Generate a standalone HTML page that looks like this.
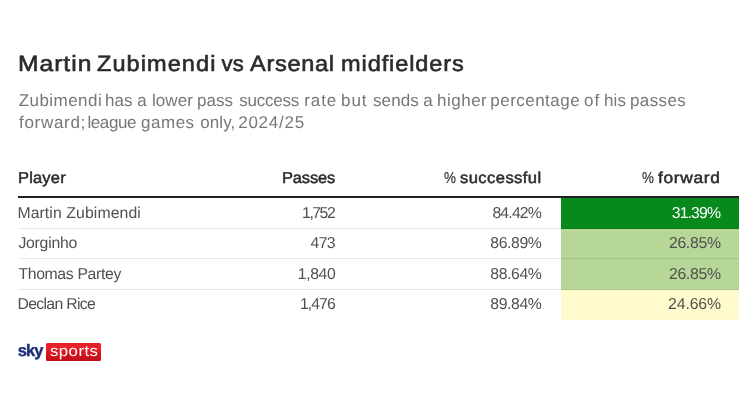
<!DOCTYPE html>
<html><head><meta charset="utf-8">
<style>
html,body{margin:0;padding:0;background:#fff;}
body{width:750px;height:406px;position:relative;overflow:hidden;text-rendering:geometricPrecision;font-family:"Liberation Sans",sans-serif;color:#333;}
.abs{position:absolute;white-space:nowrap;}
.t{position:absolute;white-space:nowrap;line-height:20px;}
#title .t{line-height:26px;}
#sub .t{line-height:22px;}
#hline{left:18px;top:196px;width:721px;height:2px;background:#222;}
.sep{position:absolute;left:18px;width:721px;height:1px;background:rgba(0,0,0,0.09);}
.cell{position:absolute;left:561px;width:178px;}
</style></head><body>
<div id="title"><div class="t" style="left:18.3px;top:51px;font-size:22px;-webkit-text-stroke:0.6px #2b2b2b;transform:scaleX(1.12);transform-origin:0 0;letter-spacing:0.87px;color:#2b2b2b;">Martin</div> <div class="t" style="left:96.5px;top:51px;font-size:22px;-webkit-text-stroke:0.6px #2b2b2b;transform:scaleX(1.07);transform-origin:0 0;letter-spacing:0.99px;color:#2b2b2b;">Zubimendi</div> <div class="t" style="left:221.6px;top:51px;font-size:22px;-webkit-text-stroke:0.6px #2b2b2b;transform:scaleX(1.0);transform-origin:0 0;letter-spacing:0.1px;color:#2b2b2b;">vs</div> <div class="t" style="left:250.2px;top:51px;font-size:22px;-webkit-text-stroke:0.6px #2b2b2b;transform:scaleX(1.07);transform-origin:0 0;letter-spacing:0.65px;color:#2b2b2b;">Arsenal</div> <div class="t" style="left:340.8px;top:51px;font-size:22px;-webkit-text-stroke:0.6px #2b2b2b;transform:scaleX(1.07);transform-origin:0 0;letter-spacing:0.84px;color:#2b2b2b;">midfielders</div></div>
<div id="sub"><div class="t" style="left:18.7px;top:90px;font-size:17px;letter-spacing:0.45px;color:#777777;">Zubimendi</div> <div class="t" style="left:105.0px;top:90px;font-size:17px;letter-spacing:0.0px;color:#777777;">has</div> <div class="t" style="left:137.2px;top:90px;font-size:17px;letter-spacing:0.0px;color:#777777;">a</div> <div class="t" style="left:152.0px;top:90px;font-size:17px;letter-spacing:0.05px;color:#777777;">lower</div> <div class="t" style="left:197.0px;top:90px;font-size:17px;letter-spacing:0.07px;color:#777777;">pass</div> <div class="t" style="left:239.2px;top:90px;font-size:17px;letter-spacing:-0.23px;color:#777777;">success</div> <div class="t" style="left:304.3px;top:90px;font-size:17px;letter-spacing:0.87px;color:#777777;">rate</div> <div class="t" style="left:341.1px;top:90px;font-size:17px;letter-spacing:0.85px;color:#777777;">but</div> <div class="t" style="left:373.0px;top:90px;font-size:17px;letter-spacing:0.12px;color:#777777;">sends</div> <div class="t" style="left:423.2px;top:90px;font-size:17px;letter-spacing:0.0px;color:#777777;">a</div> <div class="t" style="left:437.0px;top:90px;font-size:17px;letter-spacing:0.5px;color:#777777;">higher</div> <div class="t" style="left:490.3px;top:90px;font-size:17px;letter-spacing:0.47px;color:#777777;">percentage</div> <div class="t" style="left:584.0px;top:90px;font-size:17px;letter-spacing:1.0px;color:#777777;">of</div> <div class="t" style="left:604.0px;top:90px;font-size:17px;letter-spacing:0.15px;color:#777777;">his</div> <div class="t" style="left:630.0px;top:90px;font-size:17px;letter-spacing:0.4px;color:#777777;">passes</div>
<div class="t" style="left:19.0px;top:112px;font-size:17px;letter-spacing:0.7px;color:#777777;">forward;</div> <div class="t" style="left:87.4px;top:112px;font-size:17px;letter-spacing:-0.4px;color:#777777;">league</div> <div class="t" style="left:141.0px;top:112px;font-size:17px;letter-spacing:0.52px;color:#777777;">games</div> <div class="t" style="left:200.3px;top:112px;font-size:17px;letter-spacing:0.05px;color:#777777;">only,</div> <div class="t" style="left:238.2px;top:112px;font-size:17px;letter-spacing:0.75px;color:#777777;">2024/25</div></div>

<div class="t" style="left:17.6px;top:168.5px;font-size:15.8px;-webkit-text-stroke:0.5px #2b2b2b;transform:scaleX(1.04);transform-origin:0 0;letter-spacing:0.2px;color:#2b2b2b;">Player</div>
<div class="t" style="left:281.8px;top:168.5px;font-size:15.8px;-webkit-text-stroke:0.5px #2b2b2b;transform:scaleX(1.04);transform-origin:0 0;letter-spacing:-0.12px;color:#2b2b2b;">Passes</div>
<div class="t" style="left:444.0px;top:168.5px;font-size:15.8px;-webkit-text-stroke:0.15px #2b2b2b;transform:scaleX(0.85);transform-origin:0 0;letter-spacing:0.0px;color:#2b2b2b;">%</div>
<div class="t" style="left:460.0px;top:168.5px;font-size:15.8px;-webkit-text-stroke:0.5px #2b2b2b;transform:scaleX(1.05);transform-origin:0 0;letter-spacing:0.39px;color:#2b2b2b;">successful</div>
<div class="t" style="left:641.6px;top:168.5px;font-size:15.8px;-webkit-text-stroke:0.15px #2b2b2b;transform:scaleX(0.85);transform-origin:0 0;letter-spacing:0.0px;color:#2b2b2b;">%</div>
<div class="t" style="left:658.0px;top:168.5px;font-size:15.8px;-webkit-text-stroke:0.5px #2b2b2b;transform:scaleX(1.1);transform-origin:0 0;letter-spacing:0.59px;color:#2b2b2b;">forward</div>
<div id="hline" class="abs"></div>
<div class="cell" style="top:198px;height:31px;background:#08891c;"></div>
<div class="cell" style="top:229px;height:30px;background:#b6d798;"></div>
<div class="cell" style="top:259px;height:31px;background:#b6d798;"></div>
<div class="cell" style="top:290px;height:30px;background:#fffbcd;"></div>
<div class="sep" style="top:228px;"></div>
<div class="sep" style="top:258px;"></div>
<div class="sep" style="top:289px;"></div>
<div class="t" style="left:17.4px;top:203.5px;font-size:15.8px;letter-spacing:0.09px;color:#505050;">Martin Zubimendi</div>
<div class="t" style="left:302.1px;top:203.5px;font-size:15.8px;letter-spacing:-1.48px;color:#505050;">1,752</div>
<div class="t" style="left:492.4px;top:203.5px;font-size:15.8px;letter-spacing:-0.82px;color:#505050;">84.42%</div>
<div class="t" style="left:671.8px;top:203.5px;font-size:15.8px;letter-spacing:-0.88px;color:#fff;">31.39%</div>
<div class="t" style="left:18.4px;top:234.0px;font-size:15.8px;letter-spacing:-0.24px;color:#505050;">Jorginho</div>
<div class="t" style="left:310.6px;top:234.0px;font-size:15.8px;letter-spacing:-0.7px;color:#505050;">473</div>
<div class="t" style="left:490.3px;top:234.0px;font-size:15.8px;letter-spacing:-0.4px;color:#505050;">86.89%</div>
<div class="t" style="left:668.9px;top:234.0px;font-size:15.8px;letter-spacing:-0.3px;color:#505050;">26.85%</div>
<div class="t" style="left:18.4px;top:264.5px;font-size:15.8px;letter-spacing:-0.35px;color:#505050;">Thomas Partey</div>
<div class="t" style="left:297.8px;top:264.5px;font-size:15.8px;letter-spacing:-0.4px;color:#505050;">1,840</div>
<div class="t" style="left:490.3px;top:264.5px;font-size:15.8px;letter-spacing:-0.4px;color:#505050;">88.64%</div>
<div class="t" style="left:668.9px;top:264.5px;font-size:15.8px;letter-spacing:-0.3px;color:#505050;">26.85%</div>
<div class="t" style="left:17.4px;top:295.0px;font-size:15.8px;letter-spacing:-0.67px;color:#505050;">Declan Rice</div>
<div class="t" style="left:300.0px;top:295.0px;font-size:15.8px;letter-spacing:-0.95px;color:#505050;">1,476</div>
<div class="t" style="left:490.3px;top:295.0px;font-size:15.8px;letter-spacing:-0.4px;color:#505050;">89.84%</div>
<div class="t" style="left:668.1px;top:295.0px;font-size:15.8px;letter-spacing:-0.14px;color:#505050;">24.66%</div>
<div class="abs" id="sky" style="left:17.8px;top:341px;font-size:16.5px;font-weight:bold;-webkit-text-stroke:0.4px #1c2d73;color:#1c2d73;line-height:20px;letter-spacing:-0.9px;transform:scaleX(1.0);transform-origin:0 0;">sky</div>
<div class="abs" id="sportsbox" style="left:46px;top:343px;width:55px;height:17.5px;border-radius:1.5px;background:linear-gradient(#e51e28,#ea222c 30%,#d0121c 65%,#c20e18);"></div>
<div class="t" id="sports" style="left:49.8px;top:342.3px;font-size:15.2px;transform:scaleX(1.1);transform-origin:0 0;letter-spacing:0.44px;color:#fff;">sports</div>

</body></html>
